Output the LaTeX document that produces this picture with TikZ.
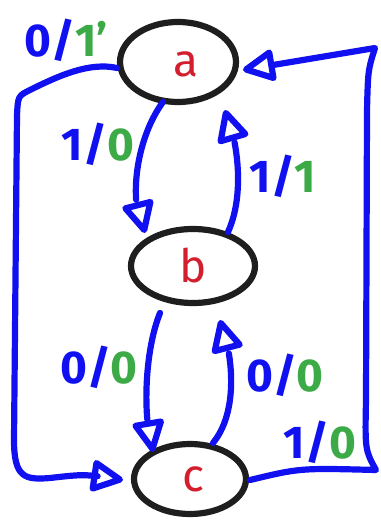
\documentclass[tikz,border=0pt]{standalone}
\usepackage{fontspec}
\setmainfont{Fira Sans}
\usetikzlibrary{arrows.meta,bending,calc,shapes.geometric}
\definecolor{penblue}{RGB}{16,16,240}
\definecolor{penred}{RGB}{210,30,45}
\definecolor{pengreen}{RGB}{60,170,70}
\definecolor{penblack}{RGB}{30,30,30}
\begin{document}
\begin{tikzpicture}[x=1pt,y=-1pt,
  statenode/.style={ellipse, draw=penblack, line width=6.2pt, inner sep=0pt},
  statetext/.style={text=penred, font=\fontsize{46}{50}\selectfont, inner sep=0pt},
  lbl/.style={inner sep=0pt, font=\fontsize{46}{50}\selectfont\bfseries},
  arr/.style={draw=penblue, line width=6.2pt, line cap=round, line join=round,
    -{Triangle[open, length=36pt, width=34pt, round, flex]}}]
\useasboundingbox (0,0) rectangle (380,521);

% states
\node[statenode, minimum width=116pt, minimum height=80pt] (a) at (178,62) {};
\node[statenode, minimum width=124pt, minimum height=74pt] (b) at (193,266) {};
\node[statenode, minimum width=112pt, minimum height=70pt] (c) at (190,479) {};
\node[statetext] (ta) at ($(a)+(8,2)$) {a};
\node[statetext] (tb) at (b) {b};
\node[statetext] (tc) at ($(c)+(3,0)$) {c};

% a -> b
\draw[arr] ($(a)+(-15,40)$) .. controls (135,140) and (128,205) .. ($(b)+(-48,-33)$);
% b -> a
\draw[arr] ($(b)+(35,-34)$) .. controls (245,195) and (238,140) .. ($(a)+(47,48)$);
% b -> c
\draw[arr] ($(b)+(-33,47)$) .. controls (145,350) and (142,415) .. ($(c)+(-37,-27)$);
% c -> b
\draw[arr] ($(c)+(23,-36)$) .. controls (240,410) and (232,350) .. ($(b)+(27,54)$);
% c -> a (1/0)
\draw[arr] ($(c)+(60,1)$) .. controls (300,468) .. (376,470)
   .. controls (365,450) .. (366,400) -- (367,110) .. controls (368,70) .. (375,48)
   -- ($(a)+(65,8)$);
% a -> c (0/1')
\draw[arr] ($(a)+(-61,6)$) .. controls (90,62) and (60,75) .. (30,90)
   .. controls (18,96) .. (17,115) -- (14,440)
   .. controls (14,478) and (25,480) .. (50,478)
   .. controls (85,474) .. ($(c)+(-67,1)$);

% labels
\node[lbl] (l1) at (66,40) {\textcolor{penblue}{0/}\textcolor{pengreen}{1\textquoteright}};
\node[lbl] (l2) at (98,144) {\textcolor{penblue}{1/}\textcolor{pengreen}{0}};
\node[lbl] (l3) at (283,176) {\textcolor{penblue}{1/}\textcolor{pengreen}{1}};
\node[lbl] (l4) at (99,367) {\textcolor{penblue}{0/}\textcolor{pengreen}{0}};
\node[lbl] (l5) at (285,375) {\textcolor{penblue}{0/}\textcolor{pengreen}{0}};
\node[lbl] (l6) at (320,442) {\textcolor{penblue}{1/}\textcolor{pengreen}{0}};
\end{tikzpicture}
\end{document}
